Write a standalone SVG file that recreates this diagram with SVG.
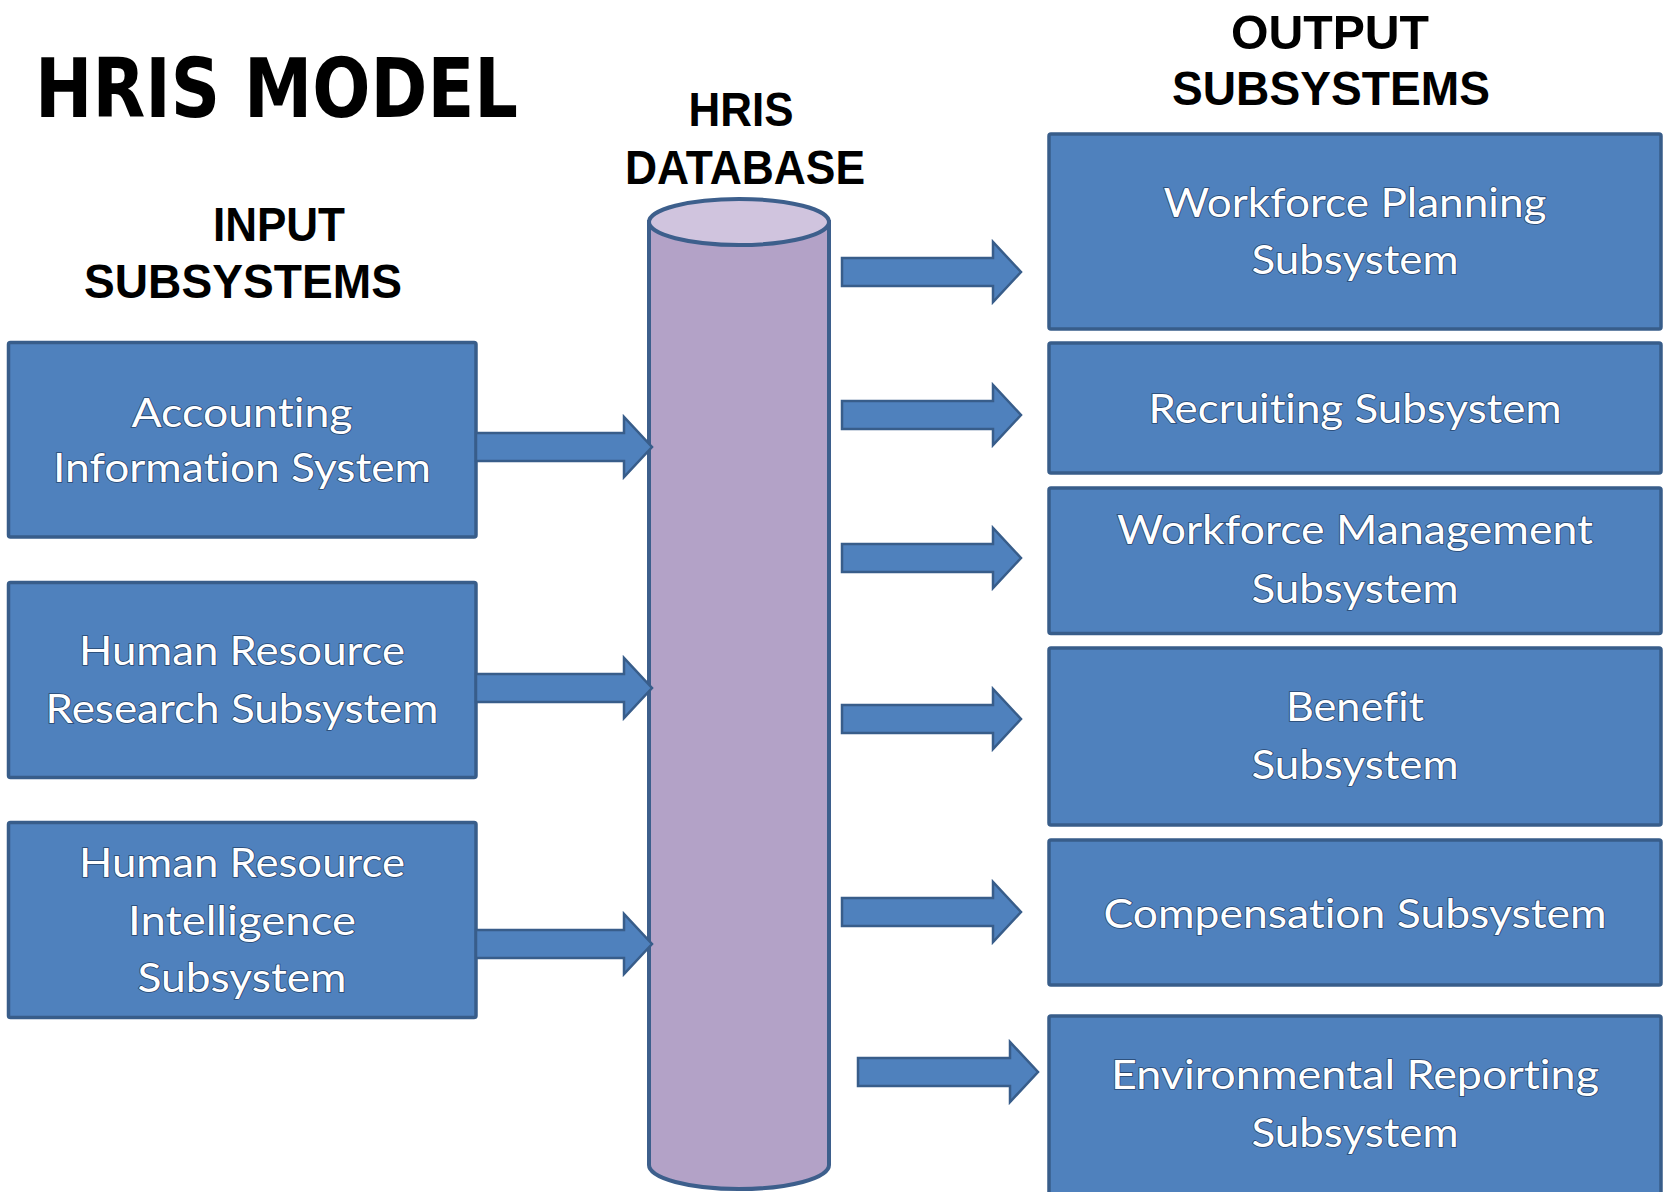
<svg xmlns="http://www.w3.org/2000/svg" width="1673" height="1192" viewBox="0 0 1673 1192">
  <style>
    .box { fill: #4f81bd; stroke: #385d8a; stroke-width: 3.5; }
    .arrow { fill: #4f81bd; stroke: #385d8a; stroke-width: 2.5; stroke-linejoin: miter; }
    .lbl { font-family: Lato, "Open Sans", "Liberation Sans", sans-serif; font-size: 40px; fill: #ffffff; stroke: #27466f; stroke-width: 1.6; paint-order: stroke; text-anchor: middle; font-variant-ligatures: none; font-feature-settings: "liga" 0, "clig" 0; }
    .head { font-family: "Liberation Sans", Arial, sans-serif; font-weight: bold; font-size: 49px; fill: #000000; text-anchor: middle; }
    .title { font-family: "DejaVu Sans", "Liberation Sans", sans-serif; font-weight: bold; font-size: 82px; fill: #000000; }
  </style>
  <rect width="1673" height="1192" fill="#ffffff"/>

  <!-- headings -->
  <g id="headings">
    <text class="title" x="35" y="117" textLength="483" lengthAdjust="spacingAndGlyphs">HRIS MODEL</text>
    <text class="head" x="741" y="126" textLength="105" lengthAdjust="spacingAndGlyphs">HRIS</text>
    <text class="head" x="745" y="184" textLength="240" lengthAdjust="spacingAndGlyphs">DATABASE</text>
    <text class="head" x="279" y="241" textLength="132" lengthAdjust="spacingAndGlyphs">INPUT</text>
    <text class="head" x="243" y="298" textLength="318" lengthAdjust="spacingAndGlyphs">SUBSYSTEMS</text>
    <text class="head" x="1330" y="49" textLength="198" lengthAdjust="spacingAndGlyphs">OUTPUT</text>
    <text class="head" x="1331" y="105" textLength="318" lengthAdjust="spacingAndGlyphs">SUBSYSTEMS</text>
  </g>

  <!-- database cylinder -->
  <g id="hris-database">
    <path d="M649,222 V1165 A90,24 0 0 0 829,1165 V222 Z" fill="#b3a2c7" stroke="#3d5f8c" stroke-width="4"/>
    <ellipse cx="739" cy="222" rx="90" ry="23" fill="#d0c4de" stroke="#3d5f8c" stroke-width="4"/>
  </g>

  <!-- input subsystems -->
  <g id="input-accounting">
    <rect class="box" x="8.5" y="342.5" width="467.5" height="194.5" rx="2"/>
    <text class="lbl" x="242" y="427" textLength="221" lengthAdjust="spacingAndGlyphs">Accounting</text>
    <text class="lbl" x="242" y="482" textLength="378" lengthAdjust="spacingAndGlyphs">Information System</text>
  </g>
  <g id="input-hr-research">
    <rect class="box" x="8.5" y="582.5" width="467.5" height="195" rx="2"/>
    <text class="lbl" x="242" y="665" textLength="326" lengthAdjust="spacingAndGlyphs">Human Resource</text>
    <text class="lbl" x="242" y="723" textLength="393" lengthAdjust="spacingAndGlyphs">Research Subsystem</text>
  </g>
  <g id="input-hr-intelligence">
    <rect class="box" x="8.5" y="822.5" width="467.5" height="195" rx="2"/>
    <text class="lbl" x="242" y="877" textLength="326" lengthAdjust="spacingAndGlyphs">Human Resource</text>
    <text class="lbl" x="242" y="935" textLength="228" lengthAdjust="spacingAndGlyphs">Intelligence</text>
    <text class="lbl" x="242" y="992" textLength="209" lengthAdjust="spacingAndGlyphs">Subsystem</text>
  </g>

  <!-- output subsystems -->
  <g id="output-workforce-planning">
    <rect class="box" x="1049" y="134" width="612" height="195" rx="2"/>
    <text class="lbl" x="1355" y="217" textLength="383" lengthAdjust="spacingAndGlyphs">Workforce Planning</text>
    <text class="lbl" x="1355" y="274" textLength="207" lengthAdjust="spacingAndGlyphs">Subsystem</text>
  </g>
  <g id="output-recruiting">
    <rect class="box" x="1049" y="343" width="612" height="130" rx="2"/>
    <text class="lbl" x="1355" y="423" textLength="413" lengthAdjust="spacingAndGlyphs">Recruiting Subsystem</text>
  </g>
  <g id="output-workforce-management">
    <rect class="box" x="1049" y="488" width="612" height="145.5" rx="2"/>
    <text class="lbl" x="1355" y="544" textLength="476" lengthAdjust="spacingAndGlyphs">Workforce Management</text>
    <text class="lbl" x="1355" y="603" textLength="207" lengthAdjust="spacingAndGlyphs">Subsystem</text>
  </g>
  <g id="output-benefit">
    <rect class="box" x="1049" y="648" width="612" height="177" rx="2"/>
    <text class="lbl" x="1355" y="721" textLength="138" lengthAdjust="spacingAndGlyphs">Benefit</text>
    <text class="lbl" x="1355" y="779" textLength="207" lengthAdjust="spacingAndGlyphs">Subsystem</text>
  </g>
  <g id="output-compensation">
    <rect class="box" x="1049" y="840" width="612" height="145" rx="2"/>
    <text class="lbl" x="1355" y="928" textLength="503" lengthAdjust="spacingAndGlyphs">Compensation Subsystem</text>
  </g>
  <g id="output-environmental-reporting">
    <rect class="box" x="1049" y="1016" width="612" height="200" rx="2"/>
    <text class="lbl" x="1355" y="1089" textLength="488" lengthAdjust="spacingAndGlyphs">Environmental Reporting</text>
    <text class="lbl" x="1355" y="1147" textLength="207" lengthAdjust="spacingAndGlyphs">Subsystem</text>
  </g>

  <!-- block arrows -->
  <g id="connectors">
    <path class="arrow" d="M476,433 H624 V417 L652,447 L624,477 V461 H476 Z"/>
    <path class="arrow" d="M476,674 H624 V658 L652,688 L624,718 V702 H476 Z"/>
    <path class="arrow" d="M476,930 H624 V914 L652,944 L624,974 V958 H476 Z"/>

    <path class="arrow" d="M842,258 H993 V242 L1021,272 L993,302 V286 H842 Z"/>
    <path class="arrow" d="M842,401 H993 V385 L1021,415 L993,445 V429 H842 Z"/>
    <path class="arrow" d="M842,544 H993 V528 L1021,558 L993,588 V572 H842 Z"/>
    <path class="arrow" d="M842,705 H993 V689 L1021,719 L993,749 V733 H842 Z"/>
    <path class="arrow" d="M842,898 H993 V882 L1021,912 L993,942 V926 H842 Z"/>
    <path class="arrow" d="M858,1058 H1010 V1042 L1038,1072 L1010,1102 V1086 H858 Z"/>
  </g>
</svg>
